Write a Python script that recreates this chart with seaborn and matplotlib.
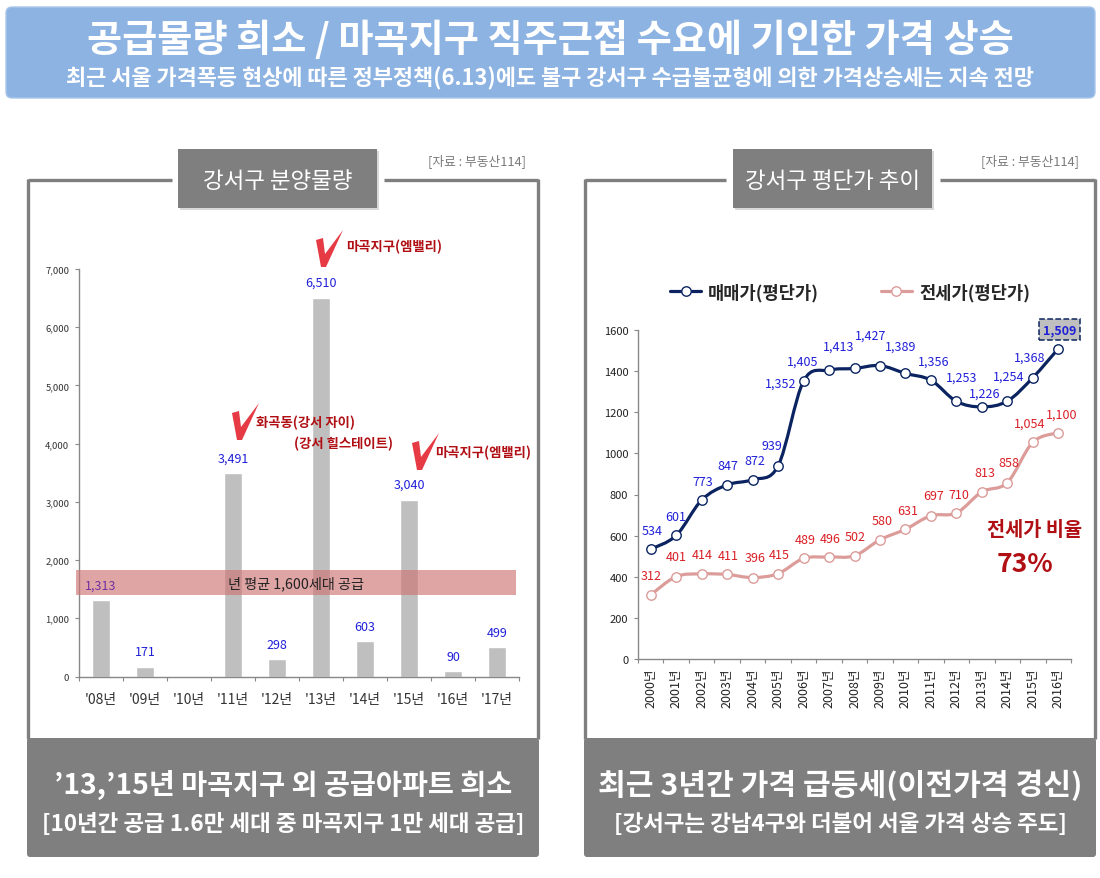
import numpy as np
import pandas as pd
import matplotlib
matplotlib.use('Agg')
import matplotlib.pyplot as plt
import seaborn as sns
from matplotlib.lines import Line2D
from matplotlib.patches import FancyBboxPatch, PathPatch, Polygon, Rectangle
from matplotlib.path import Path

# Chart data
supply_years = ["'08년", "'09년", "'10년", "'11년", "'12년", "'13년", "'14년", "'15년", "'16년", "'17년"]
supply_values = [1313, 171, 0, 3491, 298, 6510, 603, 3040, 90, 499]

price_years = ['2000년', '2001년', '2002년', '2003년', '2004년', '2005년', '2006년', '2007년', '2008년',
               '2009년', '2010년', '2011년', '2012년', '2013년', '2014년', '2015년', '2016년']
sale_price = [534, 601, 773, 847, 872, 939, 1352, 1405, 1413, 1427, 1389, 1356, 1253, 1226, 1254, 1368, 1509]
rent_price = [312, 401, 414, 411, 396, 415, 489, 496, 502, 580, 631, 697, 710, 813, 858, 1054, 1100]

# Label offsets from each point, in pixels
sale_offsets = [(1, -19), (0, -19), (1, -19), (1, -19), (2, -19), (-6, -20), (-23, 2), (-26, -9), (-16, -22),
                (-9, -30), (-5, -27), (3, -19), (5, -24), (3, -14), (1, -25), (-3, -21), (1, -19)]
rent_offsets = [(0, -19), (0, -20), (1, -19), (1, -19), (2, -20), (1, -19), (2, -19), (1, -19), (1, -19),
                (2, -19), (2, -19), (3, -20), (2, -19), (3, -19), (2, -20), (-3, -19), (3, -19)]

sns.set_theme(style='white')
plt.rcParams['font.family'] = ['Noto Sans CJK KR', 'DejaVu Sans']
plt.rcParams['axes.unicode_minus'] = False

W, H = 1100, 879
GRAY = '#7F7F7F'
BLUE = '#2020D8'
RED = '#DA1F26'
DARKRED = '#B00F14'
NAVY = '#0B2461'
PINK = '#DC9C9A'
px = 0.72  # points per pixel at dpi 100


def axes_px(left, top, right, bottom):
    a = fig.add_axes([left / W, 1 - bottom / H, (right - left) / W, (bottom - top) / H])
    a.patch.set_alpha(0)
    return a


fig = plt.figure(figsize=(11, 8.79), dpi=100, facecolor='white')

# Background layer in pixel coordinates
bg = fig.add_axes([0, 0, 1, 1], zorder=0)
bg.set_xlim(0, W)
bg.set_ylim(H, 0)
bg.axis('off')

bg.add_patch(FancyBboxPatch((8, 10), 1085, 87, boxstyle='round,pad=2,rounding_size=6', fc='#8DB3E2', ec='#A9C6EA', lw=1))
bg.text(550, 40, '공급물량 희소 / 마곡지구 직주근접 수요에 기인한 가격 상승', color='white', fontsize=27.5,
        fontweight='bold', ha='center', va='center')
bg.text(550, 79, '최근 서울 가격폭등 현상에 따른 정부정책(6.13)에도 불구 강서구 수급불균형에 의한 가격상승세는 지속 전망',
        color='white', fontsize=15.8, fontweight='bold', ha='center', va='center')

panels = [
    (28, 538, 172, 384, 178, 377, '강서구 분양물량', 477,
     "’13,’15년 마곡지구 외 공급아파트 희소", 20.4, '[10년간 공급 1.6만 세대 중 마곡지구 1만 세대 공급]'),
    (585, 1095, 726, 940, 733, 932, '강서구 평단가 추이', 1030,
     '최근 3년간 가격 급등세(이전가격 경신)', 21.7, '[강서구는 강남4구와 더불어 서울 가격 상승 주도]'),
]
for l, r, gap_l, gap_r, box_l, box_r, name, src_x, foot1, foot1_size, foot2 in panels:
    bg.plot([l, gap_l], [181, 181], color=GRAY, lw=2.4, solid_capstyle='butt')
    bg.plot([gap_r, r], [181, 181], color=GRAY, lw=2.4, solid_capstyle='butt')
    bg.plot([l, l], [179.5, 740], color=GRAY, lw=2.4, solid_capstyle='butt')
    bg.plot([r, r], [179.5, 740], color=GRAY, lw=2.4, solid_capstyle='butt')
    bg.add_patch(Rectangle((box_l + 1.5, 151.5), box_r - box_l, 59, fc='#D8D8D8', ec='none'))
    bg.add_patch(Rectangle((box_l, 150), box_r - box_l, 59, fc=GRAY, ec='none'))
    bg.text((box_l + box_r) / 2, 181, name, color='white', fontsize=16.2, ha='center', va='center')
    bg.text(src_x, 161, '[자료 : 부동산114]', color='#7A7A7A', fontsize=9.2, ha='center', va='center')
    bg.add_patch(FancyBboxPatch((l - 1, 739), r - l + 2, 119, boxstyle='round,pad=0,rounding_size=3', fc=GRAY, ec='none'))
    bg.text((l + r) / 2, 785, foot1, color='white', fontsize=foot1_size, fontweight='bold', ha='center', va='center')
    bg.text((l + r) / 2, 825, foot2, color='white', fontsize=16.2, fontweight='bold', ha='center', va='center')

# Left chart: supply bars
ax1 = axes_px(79, 270, 519, 677.5)
ax1.set_zorder(1)
supply_df = pd.DataFrame({'year': supply_years, 'units': supply_values})
sns.barplot(data=supply_df, x='year', y='units', color='#BFBFBF', saturation=1, width=0.42, ax=ax1)
ax1.set_xlim(-0.5, 9.5)
ax1.set_ylim(0, 7000)
ax1.set_xlabel('')
ax1.set_ylabel('')
ax1.set_yticks(range(0, 8000, 1000))
ax1.set_yticklabels([f'{v:,}' for v in range(0, 8000, 1000)], fontsize=6.8, color='#333333')
ax1.set_xticks(np.arange(-0.5, 10, 1))
ax1.set_xticklabels([])
ax1.set_xticks(np.arange(10), minor=True)
ax1.set_xticklabels(supply_years, minor=True, fontsize=10, color='#333333')
ax1.tick_params(axis='x', which='major', length=3, width=0.8, color='#888888', bottom=True)
ax1.tick_params(axis='x', which='minor', length=0, pad=11)
ax1.tick_params(axis='y', length=3, width=0.8, color='#888888', left=True, pad=4)
for side in ['top', 'right']:
    ax1.spines[side].set_visible(False)
for side in ['left', 'bottom']:
    ax1.spines[side].set_color('#888888')
    ax1.spines[side].set_linewidth(1)

# Average supply band sits over the bars, under the value labels
ax1.add_patch(Rectangle((-0.57, 1400), 10, 430, fc='#CE7575', ec='none', alpha=0.65, zorder=4, clip_on=False))
ax1.text(4.43, 1610, '년 평균 1,600세대 공급', fontsize=10.2, color='#222222', ha='center', va='center', zorder=5)
for i, v in enumerate(supply_values):
    if v > 0:
        ax1.annotate(f'{v:,}', (i, v), xytext=(0, 15 * px), textcoords='offset points', ha='center', va='center',
                     fontsize=9, color='#7030A0' if v == 1313 else BLUE, zorder=6)


def smooth_line(a, values, color):
    # Excel style smooth line through the data points
    pts = np.column_stack([np.arange(len(values)), values]).astype(float)
    verts = [tuple(pts[0])]
    codes = [Path.MOVETO]
    for i in range(len(pts) - 1):
        p0 = pts[max(i - 1, 0)]
        p3 = pts[min(i + 2, len(pts) - 1)]
        c1 = pts[i] + (pts[i + 1] - p0) / 6
        c2 = pts[i + 1] - (p3 - pts[i]) / 6
        verts += [tuple(c1), tuple(c2), tuple(pts[i + 1])]
        codes += [Path.CURVE4, Path.CURVE4, Path.CURVE4]
    a.add_patch(PathPatch(Path(verts, codes), fill=False, ec=color, lw=2.3, zorder=2, capstyle='round'))


# Right chart: price lines
ax2 = axes_px(638, 331, 1071, 660)
ax2.set_zorder(2)
price_df = pd.DataFrame({'x': range(len(price_years)), 'sale': sale_price, 'rent': rent_price})
for col, color, values in [('sale', NAVY, sale_price), ('rent', PINK, rent_price)]:
    smooth_line(ax2, values, color)
    sns.lineplot(data=price_df, x='x', y=col, linewidth=0, marker='o', markersize=6.8, markerfacecolor='white',
                 markeredgecolor=color, markeredgewidth=1, ax=ax2, zorder=3)
ax2.set_xlim(-0.5, 16.5)
ax2.set_ylim(0, 1600)
ax2.set_xlabel('')
ax2.set_ylabel('')
ax2.set_yticks(range(0, 1800, 200))
ax2.set_yticklabels([str(v) for v in range(0, 1800, 200)], fontsize=8, color='#222222')
ax2.set_xticks(np.arange(-0.5, 17, 1))
ax2.set_xticklabels([])
ax2.set_xticks(np.arange(17), minor=True)
ax2.set_xticklabels(price_years, minor=True, fontsize=9, rotation=90, color='#222222')
ax2.tick_params(axis='x', which='major', length=3, width=0.8, color='#888888', bottom=True)
ax2.tick_params(axis='x', which='minor', length=0, pad=6)
ax2.tick_params(axis='y', length=3, width=0.8, color='#888888', left=True, pad=4)
for side in ['top', 'right']:
    ax2.spines[side].set_visible(False)
for side in ['left', 'bottom']:
    ax2.spines[side].set_color('#888888')
    ax2.spines[side].set_linewidth(1)
for i, (v, off) in enumerate(zip(sale_price, sale_offsets)):
    last = i == len(sale_price) - 1
    ax2.annotate(f'{v:,}', (i, v), xytext=(off[0] * px, -off[1] * px), textcoords='offset points', ha='center',
                 va='center', fontsize=9, color=BLUE, fontweight='bold' if last else 'normal', zorder=5,
                 annotation_clip=False,
                 bbox=dict(boxstyle='square,pad=0.3', fc='#BFBFBF', ec=NAVY, lw=1.1, ls='--') if last else None)
for i, (v, off) in enumerate(zip(rent_price, rent_offsets)):
    ax2.annotate(f'{v:,}', (i, v), xytext=(off[0] * px, -off[1] * px), textcoords='offset points', ha='center',
                 va='center', fontsize=9, color=RED, zorder=5, annotation_clip=False)

handles = [
    Line2D([], [], color=NAVY, lw=2.3, marker='o', ms=6.8, mfc='white', mec=NAVY, mew=1),
    Line2D([], [], color=PINK, lw=2.3, marker='o', ms=6.8, mfc='white', mec=PINK, mew=1),
]
ax2.legend(handles, ['매매가(평단가)', '전세가(평단가)'], loc='center', bbox_to_anchor=(0.49, 1.115), ncol=2, frameon=False,
           handlelength=1.75, handletextpad=0.4, columnspacing=3.5, prop={'weight': 'bold', 'size': 12.7})

# Overlay: callouts
top = fig.add_axes([0, 0, 1, 1], zorder=5)
top.set_xlim(0, W)
top.set_ylim(H, 0)
top.axis('off')
top.patch.set_alpha(0)


def check_mark(x, y):
    shape = [(0, 1), (7, -1), (9, 15), (27, -9), (10, 28), (5, 28)]
    top.add_patch(Polygon([(x + dx, y + dy) for dx, dy in shape], closed=True, fc='#E63B45', ec='none'))


check_mark(316, 240)
check_mark(232, 413)
check_mark(412, 443)
for x, y, s in [(394, 247, '마곡지구(엠밸리)'), (305, 423, '화곡동(강서 자이)'), (344, 444, '(강서 힐스테이트)'),
                (483, 453, '마곡지구(엠밸리)')]:
    top.text(x, y, s, fontsize=9.6, fontweight='bold', color=DARKRED, ha='center', va='center')
top.text(1035, 531, '전세가 비율', fontsize=14.2, fontweight='bold', color=DARKRED, ha='center', va='center')
top.text(1025, 565, '73%', fontsize=19, fontweight='bold', color=DARKRED, ha='center', va='center')

fig.savefig('out.png', dpi=100)
